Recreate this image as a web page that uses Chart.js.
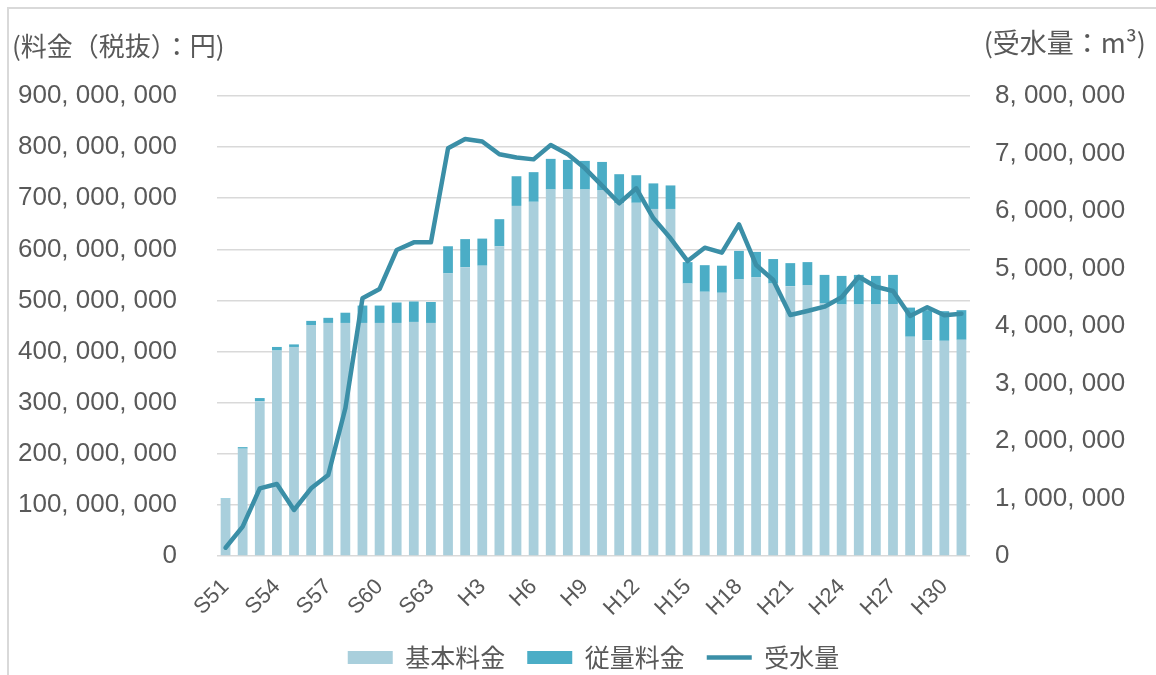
<!DOCTYPE html>
<html lang="ja">
<head>
<meta charset="utf-8">
<script src="https://cdn.jsdelivr.net/npm/chart.js@4.4.1/dist/chart.umd.min.js"></script>
<style>
  html, body { margin: 0; padding: 0; background: #fff; overflow: hidden; }
  #frame { position: absolute; left: 7px; top: 7px; width: 1160px; height: 680px;
           border-left: 2px solid #d9d9d9; border-top: 2px solid #d9d9d9; }
  #wrap { position: absolute; left: 0; top: 0; width: 1156px; height: 680px; }
</style>
</head>
<body>
<div id="frame"></div>
<div id="wrap"><canvas id="chart"></canvas></div>
<script>
// 年度 (S51 - H31)
const years = [
  'S51','S52','S53','S54','S55','S56','S57','S58','S59','S60','S61','S62','S63',
  'H1','H2','H3','H4','H5','H6','H7','H8','H9','H10','H11','H12','H13','H14','H15',
  'H16','H17','H18','H19','H20','H21','H22','H23','H24','H25','H26','H27','H28','H29','H30','H31'
];

// 基本料金 (円)
const basicFee = [
  112000000, 210000000, 303000000, 402000000, 409000000, 452000000, 456000000, 456000000,
  456000000, 456000000, 456000000, 458000000, 456000000, 553000000, 565000000, 568000000,
  606000000, 685000000, 693000000, 717000000, 717000000, 717000000, 716000000, 690000000,
  691000000, 679000000, 679000000, 533000000, 517000000, 515000000, 541000000, 545000000,
  533000000, 528000000, 530000000, 494000000, 492000000, 492000000, 492000000, 493000000,
  429000000, 422000000, 421000000, 423000000
];

// 従量料金 (円)
const usageFee = [
  1000000, 3000000, 6000000, 7000000, 5000000, 8000000, 10000000, 20000000,
  34000000, 34000000, 40000000, 40000000, 41000000, 53000000, 55000000, 53000000,
  53000000, 58000000, 58000000, 60000000, 58000000, 56000000, 55000000, 57000000,
  54000000, 50000000, 46000000, 42000000, 52000000, 53000000, 56000000, 50000000,
  48000000, 45000000, 45000000, 56000000, 56000000, 58000000, 56000000, 57000000,
  57000000, 59000000, 58000000, 58000000
];

// 受水量 (m3)
const waterVolume = [
  144000, 510000, 1177000, 1252000, 800000, 1177000, 1409000, 2569000,
  4482000, 4643000, 5322000, 5455000, 5455000, 7090000, 7252000, 7210000,
  6986000, 6930000, 6898000, 7148000, 6986000, 6742000, 6440000, 6134000,
  6395000, 5873000, 5525000, 5130000, 5362000, 5275000, 5768000, 5061000,
  4800000, 4191000, 4261000, 4336000, 4499000, 4857000, 4683000, 4609000,
  4174000, 4325000, 4186000, 4214000
];

const leftTitle = '(料金（税抜）：円)';
const rightTitle = '(受水量：m³)';

const textColor = '#595959';
const gridColor = '#d9d9d9';
const numFont = '"Liberation Sans", Arial, sans-serif';
const jpFont = '"Noto Sans CJK JP", "Noto Sans", sans-serif';

const fmt = v => Number(v).toLocaleString('en-US').replace(/,/g, ', ');

const axisTitles = {
  id: 'axisTitles',
  afterDraw(chart) {
    const ctx = chart.ctx;
    ctx.save();
    ctx.font = '26px ' + jpFont;
    ctx.fillStyle = textColor;
    ctx.textBaseline = 'middle';
    ctx.textAlign = 'left';
    ctx.fillText(leftTitle, 12, 46);
    ctx.font = '27px ' + jpFont;
    ctx.textAlign = 'right';
    ctx.fillText(rightTitle, 1146, 43);
    ctx.restore();
  }
};

new Chart(document.getElementById('chart'), {
  data: {
    labels: years,
    datasets: [
      { type: 'bar', label: '基本料金', data: basicFee, backgroundColor: '#a9cfdc',
        stack: 'fee', yAxisID: 'y', categoryPercentage: 0.57, barPercentage: 1, pointStyle: 'rect' },
      { type: 'bar', label: '従量料金', data: usageFee, backgroundColor: '#4badc6',
        stack: 'fee', yAxisID: 'y', categoryPercentage: 0.57, barPercentage: 1, pointStyle: 'rect' },
      { type: 'line', label: '受水量', data: waterVolume, borderColor: '#3b8fa7', backgroundColor: '#3b8fa7',
        borderWidth: 4.5, pointRadius: 0, tension: 0, borderJoinStyle: 'round', borderCapStyle: 'round',
        yAxisID: 'y1', order: -1, pointStyle: 'line' },
    ],
  },
  options: {
    responsive: true,
    maintainAspectRatio: false,
    animation: false,
    layout: { padding: { top: 96, left: 0, right: 0, bottom: 0 } },
    plugins: {
      tooltip: { enabled: false },
      legend: {
        position: 'bottom',
        fullSize: false,
        labels: {
          color: textColor,
          font: { family: jpFont, size: 25 },
          usePointStyle: true,
          pointStyleWidth: 45,
          boxHeight: 13,
          padding: 22,
          sort: (a, b) => a.datasetIndex - b.datasetIndex,
        },
      },
    },
    scales: {
      x: {
        stacked: true,
        offset: true,
        grid: { display: false },
        border: { display: false },
        ticks: {
          color: textColor,
          font: { family: numFont, size: 22 },
          autoSkip: false,
          maxRotation: 45,
          minRotation: 45,
          padding: 10,
          callback: (v, i) => (i % 3 === 0 ? years[i] : ''),
        },
        afterFit: s => { s.height = 67; },
      },
      y: {
        position: 'left',
        stacked: true,
        min: 0,
        max: 900000000,
        grid: { color: gridColor, lineWidth: 1.5, drawTicks: false },
        border: { display: false },
        ticks: {
          stepSize: 100000000,
          color: textColor,
          font: { family: numFont, size: 26 },
          padding: 40,
          callback: v => fmt(v),
        },
        afterFit: s => { s.width = 217; },
      },
      y1: {
        position: 'right',
        min: 0,
        max: 8000000,
        grid: { display: false, drawTicks: false },
        border: { display: false },
        ticks: {
          stepSize: 1000000,
          color: textColor,
          font: { family: numFont, size: 26 },
          padding: 25,
          callback: v => fmt(v),
        },
        afterFit: s => { s.width = 186; },
      },
    },
  },
  plugins: [axisTitles],
});
</script>
</body>
</html>
